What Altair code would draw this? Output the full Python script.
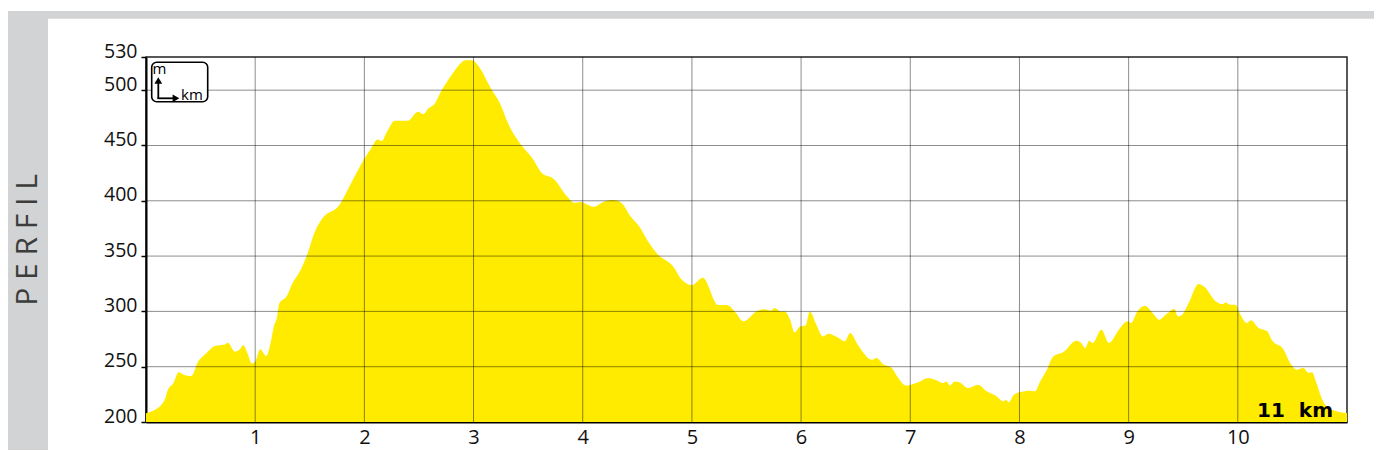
import altair as alt
import pandas as pd

# ---- data ----
km = [0.00, 0.06, 0.17, 0.20, 0.25, 0.30, 0.35, 0.415, 0.477, 0.55, 0.63, 0.72, 0.75,
      0.815, 0.86, 0.89, 0.93, 0.97, 1.00, 1.046, 1.10, 1.14, 1.17, 1.20, 1.22, 1.29,
      1.34, 1.415, 1.48, 1.54, 1.615, 1.77, 1.877, 2.00, 2.06, 2.12, 2.16, 2.20, 2.28,
      2.40, 2.49, 2.54, 2.585, 2.646, 2.70, 2.76, 2.82, 2.93, 2.99, 3.04, 3.16, 3.25,
      3.31, 3.45, 3.54, 3.63, 3.73, 3.86, 3.92, 3.98, 4.10, 4.19, 4.28, 4.36, 4.43,
      4.52, 4.60, 4.68, 4.83, 4.91, 5.00, 5.10, 5.24, 5.32, 5.40, 5.47, 5.60, 5.67,
      5.72, 5.76, 5.81, 5.85, 5.90, 5.94, 5.99, 6.04, 6.08, 6.14, 6.20, 6.25, 6.33,
      6.40, 6.45, 6.51, 6.55, 6.65, 6.69, 6.75, 6.83, 6.89, 6.965, 7.03, 7.09, 7.16,
      7.24, 7.30, 7.33, 7.36, 7.41, 7.45, 7.53, 7.62, 7.70, 7.79, 7.85, 7.88, 7.90,
      7.95, 8.00, 8.09, 8.14, 8.19, 8.25, 8.31, 8.40, 8.52, 8.565, 8.60, 8.64, 8.67,
      8.75, 8.82, 8.91, 8.99, 9.02, 9.08, 9.15, 9.22, 9.28, 9.34, 9.42, 9.45, 9.49,
      9.55, 9.64, 9.69, 9.80, 9.86, 9.89, 9.93, 9.98, 10.01, 10.085, 10.12, 10.19,
      10.27, 10.31, 10.42, 10.48, 10.54, 10.60, 10.65, 10.68, 10.72, 10.78, 10.86, 11.00]
elev = [208, 210, 220, 229, 235, 245, 242.5, 241.6, 254.5, 262, 268.7, 270, 271.7,
        263.6, 265.7, 269.6, 262, 253, 254.5, 265.7, 259.6, 271, 286, 295, 307, 314,
        325.3, 337.3, 352.4, 370.5, 384, 396, 415.7, 438, 447, 455.4, 454, 461, 472.3,
        472.3, 480.4, 478.3, 483.4, 488, 498.5, 508, 516.6, 527, 527, 522.6, 501.5, 486.4,
        471.4, 448.8, 438.3, 424.7, 420.2, 403.6, 398.2, 399, 394.6, 399, 400.6, 397.6, 387,
        376.5, 363, 352.4, 340.4, 328.3, 323.8, 330.4, 305.7, 305.7, 299, 291, 300.6, 302,
        300.6, 303, 300, 300, 292.5, 281, 286.4, 287.3, 300, 288, 277.4, 279.8, 276.8,
        273, 280.4, 271.4, 265.4, 256.3, 257.8, 252.4, 248.8, 239.8, 232.8, 234.6, 236.7, 239.8,
        237.7, 235.2, 236.7, 233.1, 236.7, 236, 230.7, 233.7, 227.7, 223.2, 218.7, 220.2, 217.8,
        224.7, 226.8, 228.3, 227.7, 236.7, 247, 259.3, 263, 273.5, 271.4, 266.9, 273.5, 271.4,
        283.4, 271.4, 283.4, 291, 289.5, 300, 305.1, 298.5, 292.5, 297, 302.1, 295.5, 297,
        307.5, 324.7, 322.6, 309, 306.6, 308.1, 306, 306, 300, 289.5, 291.9, 285,
        282, 274.4, 265.4, 253.3, 247.3, 248.8, 244.3, 244.9, 235.2, 218.7, 211.1, 208.1]

x_ticks = [1, 2, 3, 4, 5, 6, 7, 8, 9, 10]
y_ticks = [200, 250, 300, 350, 400, 450, 500, 530]
y_grid = [250, 300, 350, 400, 450, 500]
side_label = "P E R F I L"
end_label = "11\u00a0\u00a0km"

profile = pd.DataFrame({"km": km, "elev": elev})
one = pd.DataFrame({"a": [0]})

W, H = 1201, 365
xscale = alt.Scale(domain=[0, 11], nice=False, zero=False)
yscale = alt.Scale(domain=[200, 530], nice=False, zero=False)

# grey frame decoration (left bar and top band)
left_bar = alt.Chart(one).mark_rect(color="#D1D3D4").encode(
    x=alt.value(-138), x2=alt.value(-98), y=alt.value(-46), y2=alt.value(420))
top_band = alt.Chart(one).mark_rect(color="#D1D3D4").encode(
    x=alt.value(-138), x2=alt.value(1240), y=alt.value(-46), y2=alt.value(-38.3))
side_text = alt.Chart(one).mark_text(
    angle=270, fontSize=30, font="Open Sans", color="#3c3c3c",
    align="center", baseline="middle").encode(
    x=alt.value(-118), y=alt.value(183), text=alt.value(side_label))

area = alt.Chart(profile).mark_area(color="#FFEB00", interpolate="monotone", clip=True).encode(
    x=alt.X("km:Q", scale=xscale,
            axis=alt.Axis(values=x_ticks, title=None, grid=False, ticks=False, format="d",
                          labelPadding=5, labelFontSize=20, labelFlush=False)),
    y=alt.Y("elev:Q", scale=yscale,
            axis=alt.Axis(values=y_ticks, title=None, grid=False, tickSize=5, format="d",
                          tickWidth=1.5, labelBaseline="alphabetic", labelPadding=4,
                          labelFontSize=19.5)),
)

hgrid = alt.Chart(pd.DataFrame({"elev": y_grid})).mark_rule(
    color="black", opacity=0.45, strokeWidth=1).encode(y=alt.Y("elev:Q", scale=yscale))
vgrid = alt.Chart(pd.DataFrame({"km": x_ticks})).mark_rule(
    color="black", opacity=0.45, strokeWidth=1).encode(x=alt.X("km:Q", scale=xscale))

# m / km icon
box = alt.Chart(one).mark_rect(cornerRadius=5, fill="white", stroke="black", strokeWidth=1.6).encode(
    x=alt.value(5.7), x2=alt.value(61.7), y=alt.value(5.3), y2=alt.value(44.7))
up_line = alt.Chart(one).mark_rule(color="black", strokeWidth=1.8).encode(
    x=alt.value(12.3), y=alt.value(24), y2=alt.value(41.3))
right_line = alt.Chart(one).mark_rule(color="black", strokeWidth=1.8).encode(
    x=alt.value(11.4), x2=alt.value(29), y=alt.value(41.3))
up_head = alt.Chart(one).mark_point(shape="triangle-up", filled=True, color="black", size=60, opacity=1).encode(
    x=alt.value(12.3), y=alt.value(23.5))
right_head = alt.Chart(one).mark_point(shape="triangle-right", filled=True, color="black", size=60, opacity=1).encode(
    x=alt.value(30), y=alt.value(41.3))
m_text = alt.Chart(one).mark_text(fontSize=15, font="Open Sans", color="black",
                                  align="left", baseline="alphabetic").encode(
    x=alt.value(6.5), y=alt.value(16.5), text=alt.value("m"))
km_text = alt.Chart(one).mark_text(fontSize=15, font="Open Sans", color="black",
                                   align="left", baseline="alphabetic").encode(
    x=alt.value(35), y=alt.value(43), text=alt.value("km"))

end_text = alt.Chart(one).mark_text(fontSize=20, font="DejaVu Sans", fontWeight="bold",
                                    color="black", align="right", baseline="alphabetic").encode(
    x=alt.value(W - 14), y=alt.value(H - 5), text=alt.value(end_label))

chart = alt.layer(
    left_bar, top_band, side_text, area, hgrid, vgrid,
    box, up_line, right_line, up_head, right_head, m_text, km_text, end_text
).properties(
    width=W, height=H,
    autosize=alt.AutoSizeParams(type="none"),
    padding={"left": 138, "top": 49, "right": 27, "bottom": 28},
).configure_view(
    stroke="#222", strokeWidth=1.5
).configure_axis(
    labelFont="Open Sans", labelColor="#111", domainColor="black", domainWidth=2,
    tickColor="black", zindex=1
)

chart.save("out.html", embed_options={"renderer": "svg", "actions": False})
